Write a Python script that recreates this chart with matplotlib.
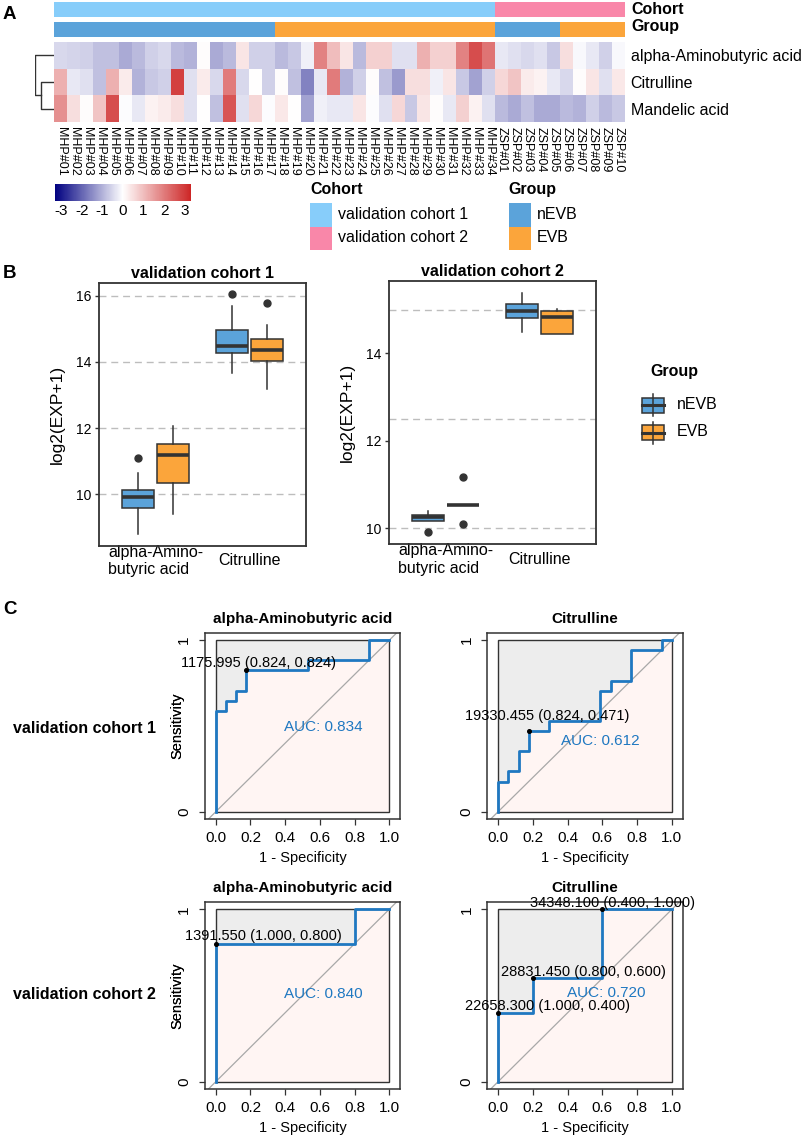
import numpy as np
import matplotlib
matplotlib.use('Agg')
import matplotlib.pyplot as plt
from matplotlib.colors import LinearSegmentedColormap, ListedColormap
from matplotlib.patches import Rectangle

plt.rcParams['font.family'] = ['Liberation Sans', 'DejaVu Sans']
plt.rcParams['axes.unicode_minus'] = False

W, H = 803, 1140

# ---------------- data: heatmap (panel A) ----------------
samples = ['MHP#%02d' % i for i in range(1, 35)] + ['ZSP#%02d' % i for i in range(1, 11)]
metabolites = ['alpha-Aminobutyric acid', 'Citrulline', 'Mandelic acid']
z_alpha = [-0.5, -0.55, -0.6, -0.8, -0.8, -1.1, -0.9, -0.6, -0.5, -0.9, -1.0, 0.05, -1.1, -0.9, 0.4, -0.6, -0.6,
           -0.9, -0.7, -0.2, 1.9, 1.0, 0.4, -0.9, 0.7, 0.7, -0.4, -0.4, 1.2, 0.7, 0.7, 1.9, 2.7, 2.1,
           -0.3, -0.4, -0.5, -0.4, -0.7, 0.5, -0.1, -0.3, -0.6, -0.1]
z_citrulline = [1.2, -0.3, -0.4, -0.8, 1.2, 0.3, -1.0, -0.7, -0.6, 2.9, -0.4, 0.3, -0.5, 2.0, -0.5, 0.0, -0.6,
                0.05, -0.8, -1.6, -0.3, 2.0, -1.0, -0.6, 0.05, -0.8, -1.3, 0.5, 0.5, -0.2, 0.4, -0.7, -1.2, -0.6,
                0.6, 0.9, 0.3, 0.2, -0.3, -0.5, 0.05, 0.4, -0.4, 0.35]
z_mandelic = [1.7, 0.5, 0.05, 0.9, 2.7, -0.05, -0.3, 0.2, 0.3, 0.5, -0.4, 0.02, -0.8, 2.6, -0.4, 0.6, -0.05,
              0.35, 0.0, -1.2, -0.2, -0.3, -0.3, 0.4, -0.05, -0.4, 0.6, -0.7, 0.4, 0.05, -0.3, 0.7, 0.2, -0.4,
              -0.9, -1.1, -0.8, -1.1, -1.1, -0.9, -1.0, -0.6, -0.9, -0.7]
cohort = [1] * 34 + [2] * 10
group = ['nEVB'] * 17 + ['EVB'] * 17 + ['nEVB'] * 5 + ['EVB'] * 5
dend_heights = [0.69, 1.0]  # Citrulline+Mandelic, then root

# ---------------- data: boxplots (panel B) ----------------
# whislo, q1, median, q3, whishi
c1_alpha_nevb = [8.79, 9.58, 9.90, 10.11, 10.64]
c1_alpha_evb = [9.40, 10.33, 11.18, 11.51, 12.05]
c1_cit_nevb = [13.66, 14.27, 14.49, 14.98, 15.69]
c1_cit_evb = [13.19, 14.02, 14.36, 14.70, 15.13]
c1_out_nevb = [[11.10], [16.05]]
c1_out_evb = [[], [15.78]]
c2_alpha_nevb = [10.17, 10.17, 10.25, 10.31, 10.40]
c2_alpha_evb = [10.52, 10.52, 10.52, 10.52, 10.52]
c2_cit_nevb = [14.50, 14.82, 14.98, 15.13, 15.38]
c2_cit_evb = [14.44, 14.44, 14.83, 14.98, 15.02]
c2_out_nevb = [[9.91], []]
c2_out_evb = [[11.17, 10.10], []]
box_cats = ['alpha-Amino-\nbutyric acid', 'Citrulline']

# ---------------- data: ROC (panel C) ----------------
roc_titles = ['alpha-Aminobutyric acid', 'Citrulline', 'alpha-Aminobutyric acid', 'Citrulline']
roc_fpr = [
    [0, 0, 0.059, 0.059, 0.118, 0.118, 0.176, 0.176, 0.529, 0.529, 0.882, 0.882, 1.0],
    [0, 0, 0.059, 0.059, 0.118, 0.118, 0.176, 0.176, 0.294, 0.294, 0.588, 0.588, 0.647, 0.647,
     0.765, 0.765, 0.941, 0.941, 1.0],
    [0, 0, 0.8, 0.8, 1.0],
    [0, 0, 0.2, 0.2, 0.6, 0.6, 1.0],
]
roc_tpr = [
    [0, 0.588, 0.588, 0.647, 0.647, 0.706, 0.706, 0.824, 0.824, 0.882, 0.882, 1.0, 1.0],
    [0, 0.176, 0.176, 0.235, 0.235, 0.353, 0.353, 0.471, 0.471, 0.529, 0.529, 0.706, 0.706, 0.765,
     0.765, 0.941, 0.941, 1.0, 1.0],
    [0, 0.8, 0.8, 1.0, 1.0],
    [0, 0.4, 0.4, 0.6, 0.6, 1.0, 1.0],
]
roc_auc = [0.834, 0.612, 0.840, 0.720]
thr_value = [[1175.995], [19330.455], [1391.550], [34348.100, 28831.450, 22658.300]]
thr_spec = [[0.824], [0.824], [1.000], [0.400, 0.800, 1.000]]
thr_sens = [[0.824], [0.471], [0.800], [1.000, 0.600, 0.400]]
# label placement (centre of text, in axis units)
thr_text_xy = [[(0.248, 0.870)], [(0.283, 0.559)], [(0.275, 0.844)],
               [(0.66, 1.035), (0.49, 0.635), (0.285, 0.438)]]
auc_text_xy = [(0.62, 0.497), (0.587, 0.41), (0.621, 0.506), (0.62, 0.512)]

# colours
col_c1, col_c2 = '#87CDFA', '#F987A9'
col_nevb, col_evb = '#5BA3DA', '#FBA53B'
roc_blue = '#1F78C1'
dark = '#333333'

fig = plt.figure(figsize=(W / 100, H / 100), dpi=100)


def px_axes(x0, y0, x1, y1):
    return fig.add_axes([x0 / W, 1 - y1 / H, (x1 - x0) / W, (y1 - y0) / H])


# overlay for free text and legends, in pixel units
ov = px_axes(0, 0, W, H)
ov.set_xlim(0, W)
ov.set_ylim(H, 0)
ov.axis('off')

# ---------------- panel A ----------------
hx0, hx1 = 54.3, 625
Z = np.array([z_alpha, z_citrulline, z_mandelic])
hm_cmap = LinearSegmentedColormap.from_list('hm', ['#000080', '#FFFFFF', '#CD2626'])
ax_hm = px_axes(hx0, 41.7, hx1, 122.3)
mesh = ax_hm.pcolormesh(Z, cmap=hm_cmap, vmin=-3.3, vmax=3.3)
ax_hm.set_ylim(3, 0)
ax_hm.set_xticks(np.arange(len(samples)) + 0.5)
ax_hm.set_xticklabels(samples, rotation=270, fontsize=9)
ax_hm.set_yticks([0.5, 1.5, 2.5])
ax_hm.set_yticklabels(metabolites, fontsize=11.5)
ax_hm.yaxis.tick_right()
ax_hm.tick_params(axis='x', length=0, pad=3.5)
ax_hm.tick_params(axis='y', length=0, pad=4)
for s in ax_hm.spines.values():
    s.set_visible(False)

ax_co = px_axes(hx0, 1.7, hx1, 17.3)
ax_co.pcolormesh(np.array(cohort)[None, :], cmap=ListedColormap([col_c1, col_c2]), vmin=1, vmax=2)
ax_gr = px_axes(hx0, 21.7, hx1, 37.3)
gcode = np.array([0 if g == 'nEVB' else 1 for g in group])[None, :]
ax_gr.pcolormesh(gcode, cmap=ListedColormap([col_nevb, col_evb]), vmin=0, vmax=1)
for a in (ax_co, ax_gr):
    a.axis('off')
ov.text(631, 9.5, 'Cohort', fontsize=11.5, fontweight='bold', va='center')
ov.text(631, 27, 'Group', fontsize=11.5, fontweight='bold', va='center')

# dendrogram
ax_d = px_axes(35, 41.7, hx0, 122.3)
ax_d.set_ylim(3, 0)
ax_d.set_xlim(1.02, 0)
h1, h2 = dend_heights
ax_d.plot([0, h1, h1, 0], [1.5, 1.5, 2.5, 2.5], color=dark, lw=1)
ax_d.plot([0, h2, h2, h1], [0.5, 0.5, 2.0, 2.0], color=dark, lw=1)
ax_d.axis('off')

# colour key
cax = px_axes(54.8, 183.8, 191, 201)
cb = fig.colorbar(mesh, cax=cax, orientation='horizontal', ticks=[-3, -2, -1, 0, 1, 2, 3])
cb.outline.set_visible(False)
cax.tick_params(length=0, labelsize=11, pad=2.5)

# annotation legends
for x0, title, names, cols in [(310, 'Cohort', ['validation cohort 1', 'validation cohort 2'], [col_c1, col_c2]),
                               (508.6, 'Group', ['nEVB', 'EVB'], [col_nevb, col_evb])]:
    ov.text(x0, 189.6, title, fontsize=11.5, fontweight='bold', va='center')
    for i, (nm, c) in enumerate(zip(names, cols)):
        y0 = 202.7 + i * 23.8
        ov.add_patch(Rectangle((x0, y0), 22, 23.8, color=c, lw=0))
        ov.text(x0 + 28, y0 + 11.5, nm, fontsize=11.5, va='center')

# ---------------- panel B ----------------


def stats(vals, fl):
    return dict(whislo=vals[0], q1=vals[1], med=vals[2], q3=vals[3], whishi=vals[4], fliers=fl)


def box_panel(ax, nevb, evb, out_nevb, out_evb, ylim, yticks, grid, title):
    for gv in grid:
        ax.axhline(gv, color='#BDBDBD', lw=1, ls=(0, (5, 3.5)), zorder=0)
    for vals, outs, col, off in [(nevb, out_nevb, col_nevb, -0.1875), (evb, out_evb, col_evb, 0.1875)]:
        st = [stats(v, o) for v, o in zip(vals, outs)]
        ax.bxp(st, positions=[1 + off, 2 + off], widths=0.34, patch_artist=True, showcaps=False,
               boxprops=dict(facecolor=col, edgecolor=dark, lw=1.1),
               whiskerprops=dict(color=dark, lw=1.1),
               medianprops=dict(color=dark, lw=2.6, solid_capstyle='butt'),
               flierprops=dict(marker='o', markerfacecolor=dark, markeredgecolor=dark, markersize=5),
               manage_ticks=False, zorder=2)
    ax.set_xlim(0.4, 2.6)
    ax.set_ylim(*ylim)
    ax.set_yticks(yticks)
    ax.set_xticks([1, 2])
    ax.set_xticklabels(box_cats, fontsize=11.5, va='center', multialignment='left')
    ax.tick_params(axis='x', length=0, pad=10.8)
    ax.tick_params(axis='y', length=3, width=1, color=dark, labelsize=10, pad=2.5)
    for s in ax.spines.values():
        s.set_color(dark)
        s.set_linewidth(1.3)
    ax.set_title(title, fontsize=11.5, fontweight='bold', pad=3.8)


axL = px_axes(99, 283, 306, 546)
box_panel(axL, [c1_alpha_nevb, c1_cit_nevb], [c1_alpha_evb, c1_cit_evb], c1_out_nevb, c1_out_evb,
          (8.43, 16.39), [10, 12, 14, 16], [10, 12, 14, 16], 'validation cohort 1')
axL.set_ylabel('log2(EXP+1)', fontsize=12.5, va='center')
axL.yaxis.set_label_coords((57.5 - 99) / 207, 0.5)

axR = px_axes(389, 281, 596, 544.3)
box_panel(axR, [c2_alpha_nevb, c2_cit_nevb], [c2_alpha_evb, c2_cit_evb], c2_out_nevb, c2_out_evb,
          (9.63, 15.66), [10, 12, 14], [10, 12.5, 15], 'validation cohort 2')
axR.set_ylabel('log2(EXP+1)', fontsize=12.5, va='center')
axR.yaxis.set_label_coords((347 - 389) / 207, 0.5)

# group legend for boxplots
ov.text(650, 371.7, 'Group', fontsize=11.5, fontweight='bold', va='center')
for yc, nm, col in [(405.2, 'nEVB', col_nevb), (432.9, 'EVB', col_evb)]:
    ov.plot([653.2, 653.2], [yc - 11, yc + 11], color=dark, lw=1.1)
    ov.add_patch(Rectangle((642.3, yc - 7.5), 21.7, 15, facecolor=col, edgecolor=dark, lw=1.1))
    ov.plot([642.3, 664], [yc, yc], color=dark, lw=2.2)
    ov.text(677, yc - 1, nm, fontsize=11.5, va='center')

# ---------------- panel C ----------------
roc_boxes = [(205, 632.7, 400, 819.3), (487.3, 632.7, 682.7, 819.3),
             (205, 901.7, 400, 1089.3), (487.3, 901.7, 682.7, 1089.3)]
for k, (x0, y0, x1, y1) in enumerate(roc_boxes):
    ax = px_axes(x0, y0, x1, y1)
    fpr, tpr = np.array(roc_fpr[k]), np.array(roc_tpr[k])
    ax.add_patch(Rectangle((0, 0), 1, 1, facecolor='#EDEDED', edgecolor='none', zorder=1))
    ax.fill_between(fpr, tpr, 0, facecolor='#FFF5F3', edgecolor='none', zorder=1.5)
    ax.axline((0, 0), slope=1, color='#A8A8A8', lw=0.9, zorder=2)
    ax.add_patch(Rectangle((0, 0), 1, 1, facecolor='none', edgecolor=dark, lw=1, zorder=2.5))
    ax.plot(fpr, tpr, color=roc_blue, lw=2, zorder=3)
    px = [1 - s for s in thr_spec[k]]
    ax.plot(px, thr_sens[k], 'o', color='black', ms=2.6, zorder=4)
    for t, sp, se, (tx, ty) in zip(thr_value[k], thr_spec[k], thr_sens[k], thr_text_xy[k]):
        ax.text(tx, ty, '%.3f (%.3f, %.3f)' % (t, sp, se), fontsize=10.5, ha='center', va='center', zorder=5)
    ax.text(auc_text_xy[k][0], auc_text_xy[k][1], 'AUC: %.3f' % roc_auc[k], color=roc_blue,
            fontsize=11, ha='center', va='center', zorder=5)
    ax.set_xlim(-0.062, 1.062)
    ax.set_ylim(-0.044, 1.044)
    ax.set_xticks([0, 0.2, 0.4, 0.6, 0.8, 1.0])
    ax.set_xticklabels(['0.0', '0.2', '0.4', '0.6', '0.8', '1.0'])
    ax.set_yticks([0, 1])
    ax.set_yticklabels(['0', '1'], rotation=90, va='center')
    ax.tick_params(axis='x', length=4, width=0.9, color=dark, labelsize=11, pad=4.5)
    ax.tick_params(axis='y', length=4, width=0.9, color=dark, labelsize=11, pad=6)
    for s in ax.spines.values():
        s.set_color(dark)
        s.set_linewidth(1.1)
    ax.set_xlabel('1 - Specificity', fontsize=10.5, va='center')
    ax.xaxis.set_label_coords(0.5, -0.206)
    ax.set_ylabel('Sensitivity', fontsize=10.5, va='center')
    ax.yaxis.set_label_coords((177.5 - x0) / (x1 - x0), 0.5)
    ax.set_title(roc_titles[k], fontsize=11, fontweight='bold', pad=7)

ov.text(13, 728.3, 'validation cohort 1', fontsize=11.5, fontweight='bold', va='center')
ov.text(13, 994.3, 'validation cohort 2', fontsize=11.5, fontweight='bold', va='center')

# panel letters
for lab, y in [('A', 14.5), ('B', 273.5), ('C', 610)]:
    ov.text(3, y, lab, fontsize=13.5, fontweight='bold', va='center')

fig.savefig('out.png', dpi=100)
